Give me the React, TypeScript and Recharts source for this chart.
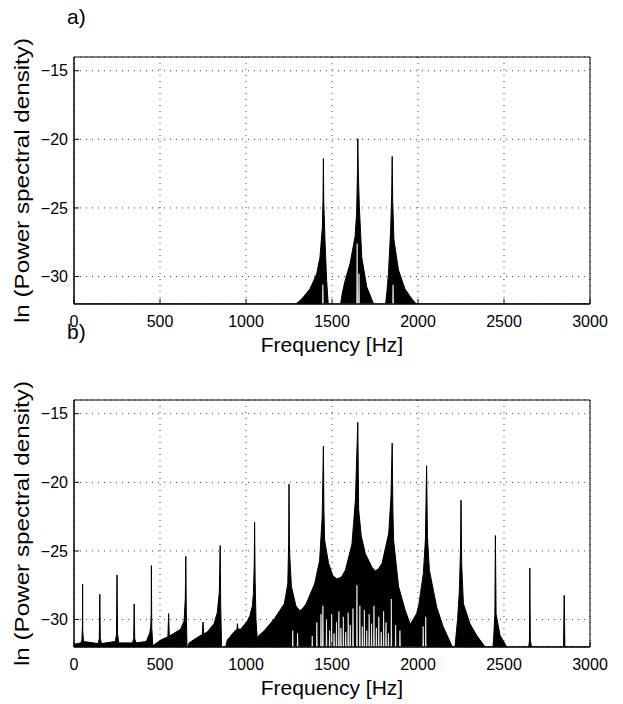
import { Area, CartesianGrid, ComposedChart, Label, ReferenceArea, XAxis, YAxis } from "recharts";

const FONT = "'Liberation Sans', Arial, Helvetica, sans-serif";
const FLOOR = -32; // bottom of the y range
const CEIL = -14;
const STREAK_HALF = 2; // half width of a white streak, Hz

const xTicks = [0, 500, 1000, 1500, 2000, 2500, 3000];
const yTicks = [-30, -25, -20, -15];

// a) upper envelope of the spectrum
const topFreq = [
  0, 1290, 1310, 1333, 1372, 1411, 1430, 1444, 1448, 1450, 1452, 1459, 1469, 1478,
  1550, 1560, 1576, 1605, 1634, 1643, 1648, 1650, 1653, 1659, 1673, 1702, 1742,
  1812, 1820, 1828, 1841, 1847, 1850, 1853, 1860, 1886, 1924, 1963, 1990, 3000,
];
const topPsd = [
  -32, -32, -31.8, -31.5, -30.9, -29.8, -28.6, -26.4, -24.2, -21.4, -24.5, -27.3, -30.3, -32,
  -32, -31.2, -30.3, -29.05, -27.1, -25.4, -22.5, -19.95, -22.5, -24.9, -28.6, -30.75, -32,
  -32, -31.0, -29.8, -26.6, -24.0, -21.25, -24.5, -27.3, -29.5, -30.9, -31.6, -32, -32,
];
// a) white streaks inside the peaks
const topGapFreq = [1447, 1646, 1657, 1855];
const topGapPsd = [-30.6, -27.6, -29.8, -30.6];

// b) upper envelope
const botFreq = [
  0, 40, 46, 49, 50, 51, 55, 140, 147, 150, 153, 160, 240, 247, 250, 253, 260,
  340, 347, 350, 353, 360, 420, 440, 446, 449, 450, 452, 458,
  470, 504, 546, 550, 554, 581, 620, 640, 647, 650, 653, 657, 663, 669, 717, 746, 750, 754,
  775, 814, 833, 845, 850, 853, 858, 882, 891, 930, 948, 950, 953, 969, 1008,
  1023, 1037, 1043, 1048, 1050, 1053, 1058, 1066, 1072, 1107, 1165, 1223, 1243, 1248, 1250, 1253,
  1264, 1290, 1312, 1330, 1350, 1399, 1428, 1443, 1450, 1453, 1457, 1480, 1505, 1529, 1555,
  1578, 1616, 1636, 1650, 1655, 1670, 1694, 1733, 1752, 1770, 1791, 1830, 1843, 1850, 1854,
  1858, 1887, 1925, 1955, 1992, 2005, 2031, 2043, 2050, 2055, 2066, 2109, 2147, 2175, 2200,
  2215, 2230, 2240, 2247, 2250, 2254, 2264, 2302, 2341, 2390,
  2436, 2440, 2447, 2450, 2454, 2477, 2516, 2644, 2648, 2650, 2653, 2660, 2846, 2850, 2854, 3000,
];
const botPsd = [
  -31.8, -31.7, -31.5, -30.5, -27.43, -30.8, -31.6, -31.75, -31.4, -28.16, -31.4, -31.75, -31.6, -31.1, -26.75, -31.0, -31.7,
  -31.7, -31.4, -28.86, -31.4, -31.7, -31.6, -31.0, -30.5, -29.5, -26.07, -30.5, -31.9,
  -31.8, -31.5, -31.25, -29.57, -31.2, -31.0, -30.7, -30.1, -28.5, -25.39, -29.5, -32, -32, -31.7, -31.3, -31.1, -30.18, -31.05,
  -30.9, -30.3, -29.5, -28.0, -24.6, -29.0, -32, -32, -31.5, -30.9, -30.7, -30.3, -30.7, -30.7, -30.1,
  -29.7, -29.0, -28.1, -26.0, -22.9, -27.0, -30.0, -31.5, -31.2, -30.8, -29.94, -28.84, -27.4, -24.5, -20.13, -25.0,
  -27.6, -29.0, -29.35, -29.2, -28.84, -27.4, -25.7, -22.5, -17.36, -22.0, -24.2, -25.9, -26.8, -27.05, -26.9,
  -26.4, -24.5, -21.3, -15.63, -22.0, -23.9, -25.2, -26.2, -26.46, -26.3, -25.9, -23.7, -21.0, -17.14, -22.0,
  -24.2, -27.6, -29.3, -30.35, -29.57, -28.9, -26.65, -24.2, -18.79, -24.0, -26.4, -29.1, -30.55, -31.3, -32,
  -32, -30.0, -28.0, -25.0, -21.3, -26.0, -28.84, -30.3, -31.15, -32,
  -32, -31.3, -29.6, -23.88, -29.6, -31.15, -32, -32, -31.5, -26.24, -31.5, -32, -32, -28.23, -32, -32,
];

// b) white streaks at the foot of the dense band
const botGapFreq = [
  1272, 1300, 1385, 1412, 1436, 1447, 1468, 1486, 1498, 1512, 1526, 1540, 1552, 1566, 1580,
  1594, 1606, 1622, 1645, 1662, 1676, 1688, 1702, 1716, 1730, 1744, 1758, 1772, 1786, 1800,
  1814, 1828, 1845, 1870, 1895, 2030, 2045,
];
const botGapPsd = [
  -30.8, -31.0, -31.2, -30.2, -29.6, -29.0, -30.0, -30.8, -29.6, -31.0, -30.2, -29.4, -30.6, -29.8, -30.9,
  -29.5, -30.4, -29.2, -27.5, -29.0, -30.5, -29.3, -30.8, -29.6, -30.3, -29.0, -30.6, -29.8, -30.9, -29.4,
  -30.2, -31.0, -28.5, -30.4, -30.8, -30.5, -29.8,
];

type Row = { f: number; v: number };

const toRows = (f: number[], v: number[]): Row[] => f.map((x, i) => ({ f: x, v: v[i] }));

// each streak is a thin spike rising from the floor
const toStreaks = (f: number[], v: number[]): Row[] =>
  f.flatMap((x, i) => [
    { f: x - STREAK_HALF, v: FLOOR },
    { f: x, v: v[i] },
    { f: x + STREAK_HALF, v: FLOOR },
  ]);

const minus = (v: number) => String(v).replace("-", "\u2212");
const tickStyle = { fontSize: 16, fill: "#000", fontFamily: FONT };

function YTitle(props: any) {
  const vb = props.viewBox;
  const cx = 29;
  const cy = vb.y + vb.height / 2;
  return (
    <text
      x={cx}
      y={cy}
      transform={`rotate(-90 ${cx} ${cy})`}
      textAnchor="middle"
      fontSize={21}
      fontFamily={FONT}
      fill="#000"
      textLength={285}
      lengthAdjust="spacingAndGlyphs"
    >
      ln (Power spectral density)
    </text>
  );
}

function XTitle(props: any) {
  const vb = props.viewBox;
  return (
    <text x={vb.x + vb.width / 2} y={vb.y + 47.5} textAnchor="middle" fontSize={21} fontFamily={FONT} fill="#000">
      Frequency [Hz]
    </text>
  );
}

function Panel({
  data,
  gaps,
  height,
  top,
  bottom,
}: {
  data: Row[];
  gaps: Row[];
  height: number;
  top: number;
  bottom: number;
}) {
  return (
    <ComposedChart width={623} height={height} margin={{ top, right: 33, bottom, left: 0 }}>
      <CartesianGrid stroke="#444" strokeDasharray="1 5" />
      <Area
        data={data}
        dataKey="v"
        type="linear"
        baseValue={FLOOR}
        fill="#000"
        fillOpacity={1}
        stroke="#000"
        strokeWidth={1}
        dot={false}
        activeDot={false}
        isAnimationActive={false}
      />
      <Area
        data={gaps}
        dataKey="v"
        type="linear"
        baseValue={FLOOR}
        fill="#fff"
        fillOpacity={1}
        stroke="#fff"
        strokeWidth={0.7}
        dot={false}
        activeDot={false}
        isAnimationActive={false}
      />
      {/* invisible copy so the mirrored top/right axes get drawn */}
      <Area
        xAxisId="top"
        yAxisId="right"
        data={data}
        dataKey="v"
        type="linear"
        fill="none"
        stroke="none"
        dot={false}
        activeDot={false}
        isAnimationActive={false}
      />
      <ReferenceArea x1={0} x2={3000} y1={FLOOR} y2={CEIL} fill="none" stroke="#000" strokeWidth={1} />
      <XAxis
        type="number"
        dataKey="f"
        domain={[0, 3000]}
        ticks={xTicks}
        interval={0}
        allowDataOverflow
        height={36}
        tickSize={-5}
        tickMargin={17}
        tick={tickStyle}
        tickLine={{ stroke: "#000" }}
        axisLine={{ stroke: "#000" }}
      >
        <Label content={XTitle} />
      </XAxis>
      <XAxis
        xAxisId="top"
        orientation="top"
        type="number"
        dataKey="f"
        domain={[0, 3000]}
        ticks={xTicks}
        interval={0}
        allowDataOverflow
        height={0}
        tickSize={-5}
        tickFormatter={() => ""}
        tickLine={{ stroke: "#000" }}
        axisLine={{ stroke: "#000" }}
      />
      <YAxis
        type="number"
        domain={[FLOOR, CEIL]}
        ticks={yTicks}
        interval={0}
        allowDataOverflow
        width={74}
        tickSize={-5}
        tickMargin={11}
        tick={tickStyle}
        tickFormatter={minus}
        tickLine={{ stroke: "#000" }}
        axisLine={{ stroke: "#000" }}
      >
        <Label content={YTitle} />
      </YAxis>
      <YAxis
        yAxisId="right"
        orientation="right"
        type="number"
        domain={[FLOOR, CEIL]}
        ticks={yTicks}
        interval={0}
        allowDataOverflow
        width={0}
        tickSize={-5}
        tickFormatter={() => ""}
        tickLine={{ stroke: "#000" }}
        axisLine={{ stroke: "#000" }}
      />
    </ComposedChart>
  );
}

const tag = { position: "absolute" as const, left: 67, fontSize: 21, lineHeight: "21px", fontFamily: FONT, color: "#000" };

export default function App() {
  return (
    <div style={{ position: "absolute", left: 0, top: 0, width: 623, height: 704, background: "#fff" }}>
      <div style={{ position: "absolute", left: 0, top: 0 }}>
        <Panel data={toRows(topFreq, topPsd)} gaps={toStreaks(topGapFreq, topGapPsd)} height={362} top={57} bottom={22} />
      </div>
      <div style={{ position: "absolute", left: 0, top: 362 }}>
        <Panel data={toRows(botFreq, botPsd)} gaps={toStreaks(botGapFreq, botGapPsd)} height={342} top={38} bottom={21} />
      </div>
      <div style={{ ...tag, top: 6 }}>a)</div>
      <div style={{ ...tag, top: 321 }}>b)</div>
    </div>
  );
}
